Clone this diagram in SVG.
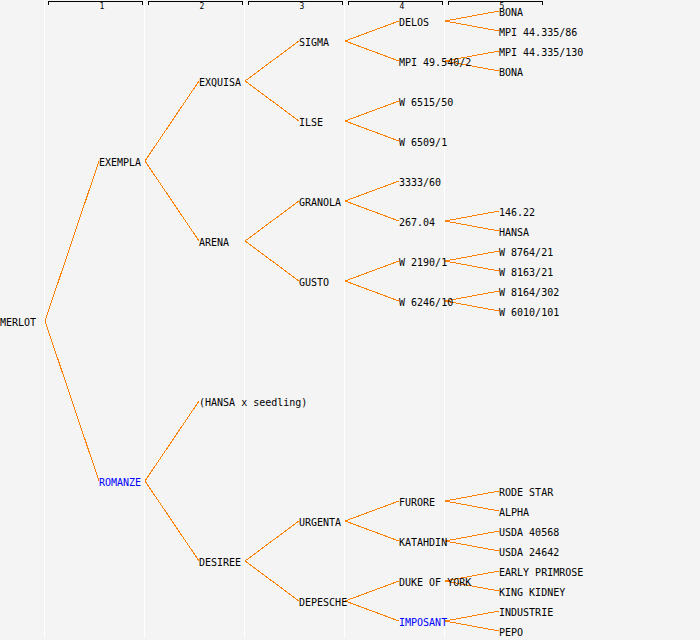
<svg xmlns="http://www.w3.org/2000/svg" width="700" height="640" viewBox="0 0 700 640">
<style>
text{font-family:"DejaVu Sans Mono","Liberation Mono",monospace;font-size:10px;fill:#000}
.b{fill:#0000ff}
.hdr{font-size:8px;text-anchor:middle}
.c{fill:none;stroke:#ff8000;stroke-width:1;shape-rendering:crispEdges}
.br{fill:none;stroke:#000;stroke-width:1;shape-rendering:crispEdges}
.sep{fill:#ffffff}
</style>
<rect x="0" y="0" width="700" height="640" fill="#f4f4f4"/>
<g id="columns">
<rect class="sep" x="44" y="0" width="1" height="638"/>
<rect class="sep" x="144" y="0" width="1" height="638"/>
<rect class="sep" x="244" y="0" width="1" height="638"/>
<rect class="sep" x="344" y="0" width="1" height="638"/>
<rect class="sep" x="444" y="0" width="1" height="638"/>
<path class="br" d="M48.5,4.5V1.5H142.5V4.5M148.5,4.5V1.5H242.5V4.5M248.5,4.5V1.5H342.5V4.5M348.5,4.5V1.5H442.5V4.5M448.5,4.5V1.5H542.5V4.5"/>
<text class="hdr" x="102" y="9">1</text>
<text class="hdr" x="202" y="9">2</text>
<text class="hdr" x="302" y="9">3</text>
<text class="hdr" x="402" y="9">4</text>
<text class="hdr" x="502" y="9">5</text>
</g>
<g id="connectors">
<path class="c" d="M99,161L45,321L99,481"/>
<path class="c" d="M199,81L145,161L199,241"/>
<path class="c" d="M199,401L145,481L199,561"/>
<path class="c" d="M299,41L245,81L299,121"/>
<path class="c" d="M299,201L245,241L299,281"/>
<path class="c" d="M299,521L245,561L299,601"/>
<path class="c" d="M399,21L345,41L399,61"/>
<path class="c" d="M399,101L345,121L399,141"/>
<path class="c" d="M399,181L345,201L399,221"/>
<path class="c" d="M399,261L345,281L399,301"/>
<path class="c" d="M399,501L345,521L399,541"/>
<path class="c" d="M399,581L345,601L399,621"/>
<path class="c" d="M499,11L445,21L499,31"/>
<path class="c" d="M499,51L445,61L499,71"/>
<path class="c" d="M499,211L445,221L499,231"/>
<path class="c" d="M499,251L445,261L499,271"/>
<path class="c" d="M499,291L445,301L499,311"/>
<path class="c" d="M499,491L445,501L499,511"/>
<path class="c" d="M499,531L445,541L499,551"/>
<path class="c" d="M499,571L445,581L499,591"/>
<path class="c" d="M499,611L445,621L499,631"/>
</g>
<g id="n-merlot"><text x="0" y="326">MERLOT</text></g>
<g id="n-exempla"><text x="99" y="166">EXEMPLA</text></g>
<g id="n-romanze"><text class="b" x="99" y="486">ROMANZE</text></g>
<g id="n-exquisa"><text x="199" y="86">EXQUISA</text></g>
<g id="n-arena"><text x="199" y="246">ARENA</text></g>
<g id="n-hansa-seedling"><text x="199" y="406">(HANSA x seedling)</text></g>
<g id="n-desiree"><text x="199" y="566">DESIREE</text></g>
<g id="n-sigma"><text x="299" y="46">SIGMA</text></g>
<g id="n-ilse"><text x="299" y="126">ILSE</text></g>
<g id="n-granola"><text x="299" y="206">GRANOLA</text></g>
<g id="n-gusto"><text x="299" y="286">GUSTO</text></g>
<g id="n-urgenta"><text x="299" y="526">URGENTA</text></g>
<g id="n-depesche"><text x="299" y="606">DEPESCHE</text></g>
<g id="n-delos"><text x="399" y="26">DELOS</text></g>
<g id="n-mpi49540"><text x="399" y="66">MPI 49.540/2</text></g>
<g id="n-w6515"><text x="399" y="106">W 6515/50</text></g>
<g id="n-w6509"><text x="399" y="146">W 6509/1</text></g>
<g id="n-3333"><text x="399" y="186">3333/60</text></g>
<g id="n-26704"><text x="399" y="226">267.04</text></g>
<g id="n-w2190"><text x="399" y="266">W 2190/1</text></g>
<g id="n-w6246"><text x="399" y="306">W 6246/10</text></g>
<g id="n-furore"><text x="399" y="506">FURORE</text></g>
<g id="n-katahdin"><text x="399" y="546">KATAHDIN</text></g>
<g id="n-duke"><text x="399" y="586">DUKE OF YORK</text></g>
<g id="n-imposant"><text class="b" x="399" y="626">IMPOSANT</text></g>
<g id="n-bona1"><text x="499" y="16">BONA</text></g>
<g id="n-mpi86"><text x="499" y="36">MPI 44.335/86</text></g>
<g id="n-mpi130"><text x="499" y="56">MPI 44.335/130</text></g>
<g id="n-bona2"><text x="499" y="76">BONA</text></g>
<g id="n-14622"><text x="499" y="216">146.22</text></g>
<g id="n-hansa"><text x="499" y="236">HANSA</text></g>
<g id="n-w8764"><text x="499" y="256">W 8764/21</text></g>
<g id="n-w8163"><text x="499" y="276">W 8163/21</text></g>
<g id="n-w8164"><text x="499" y="296">W 8164/302</text></g>
<g id="n-w6010"><text x="499" y="316">W 6010/101</text></g>
<g id="n-rodestar"><text x="499" y="496">RODE STAR</text></g>
<g id="n-alpha"><text x="499" y="516">ALPHA</text></g>
<g id="n-usda40568"><text x="499" y="536">USDA 40568</text></g>
<g id="n-usda24642"><text x="499" y="556">USDA 24642</text></g>
<g id="n-earlyprimrose"><text x="499" y="576">EARLY PRIMROSE</text></g>
<g id="n-kingkidney"><text x="499" y="596">KING KIDNEY</text></g>
<g id="n-industrie"><text x="499" y="616">INDUSTRIE</text></g>
<g id="n-pepo"><text x="499" y="636">PEPO</text></g>
</svg>
